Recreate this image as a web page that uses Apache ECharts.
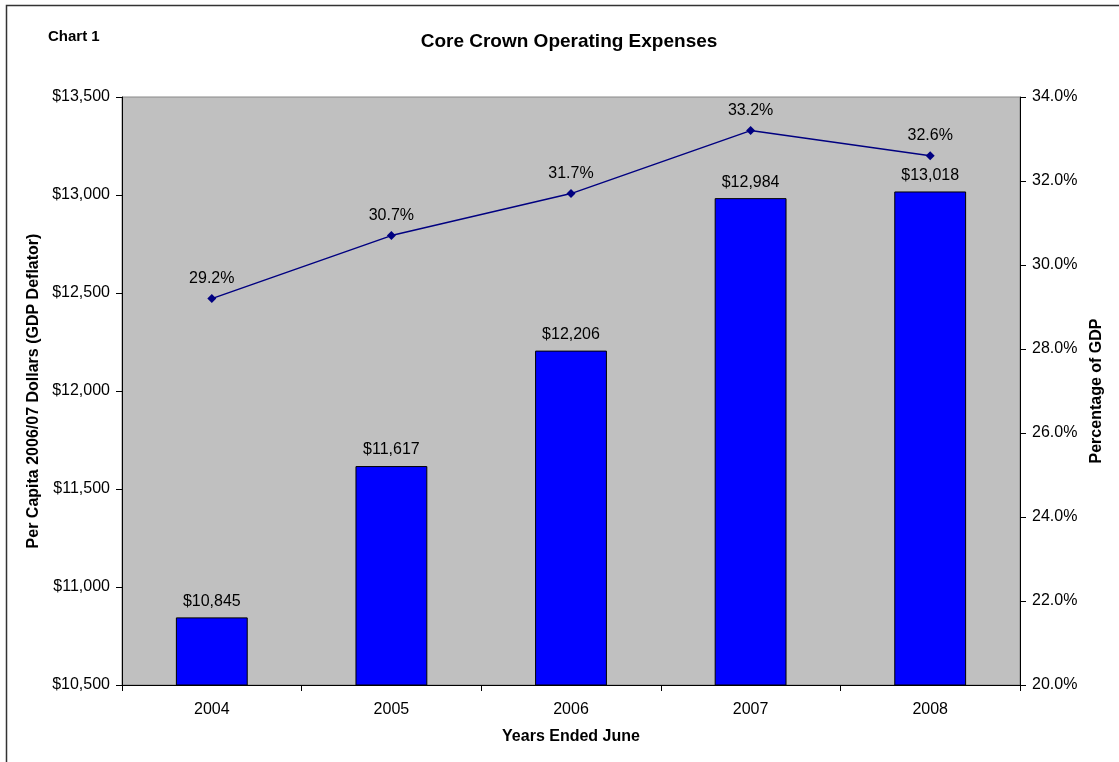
<!DOCTYPE html>
<html>
<head>
<meta charset="utf-8">
<script src="https://cdn.jsdelivr.net/npm/echarts@6/dist/echarts.min.js"></script>
<style>
html,body{margin:0;padding:0;background:#fff;}
#c{width:1119px;height:762px;}
</style>
</head>
<body>
<div id="c"></div>
<script>
const categories = ['2004', '2005', '2006', '2007', '2008'];
const perCapita = [10845, 11617, 12206, 12984, 13018];
const pctGDP = [29.2, 30.7, 31.7, 33.2, 32.6];

const chart = echarts.init(document.getElementById('c'), null, {renderer: 'canvas'});
const font = 'Liberation Sans, Arial, sans-serif';
const fmtMoney = v => '$' + v.toLocaleString('en-US');

chart.setOption({
  animation: false,
  textStyle: {fontFamily: font},
  title: {
    text: 'Core Crown Operating Expenses',
    left: 564, top: 27, textAlign: 'center',
    textStyle: {fontFamily: font, fontSize: 19, fontWeight: 'bold', color: '#000'}
  },
  graphic: [
    {type: 'rect', shape: {x: 6.5, y: 5.5, width: 1130, height: 780}, style: {fill: 'none', stroke: '#333', lineWidth: 1.5}, silent: true},
    {type: 'text', left: 48, top: 29, style: {text: 'Chart 1', font: 'bold 15px ' + font, fill: '#000'}}
  ],
  grid: {
    left: 122, top: 97, right: 99, bottom: 77,
    show: true, backgroundColor: '#C0C0C0', borderColor: '#888', borderWidth: 1
  },
  xAxis: {
    type: 'category', data: categories,
    name: 'Years Ended June', nameLocation: 'middle', nameGap: 44,
    nameTextStyle: {fontFamily: font, fontSize: 16, fontWeight: 'bold', color: '#000'},
    axisLine: {lineStyle: {color: '#000', width: 1}},
    axisTick: {show: true, inside: false, length: 6, lineStyle: {color: '#000'}},
    axisLabel: {fontFamily: font, fontSize: 16, color: '#000', margin: 17},
    splitLine: {show: false}
  },
  yAxis: [
    {
      type: 'value', min: 10500, max: 13500, interval: 500,
      name: 'Per Capita 2006/07 Dollars (GDP Deflator)', nameLocation: 'middle', nameGap: 78, nameRotate: 90,
      nameTextStyle: {fontFamily: font, fontSize: 16, fontWeight: 'bold', color: '#000'},
      axisLine: {show: true, lineStyle: {color: '#000'}},
      axisTick: {show: true, length: 6, lineStyle: {color: '#000'}},
      axisLabel: {fontFamily: font, fontSize: 16, color: '#000', margin: 12, formatter: v => fmtMoney(v)},
      splitLine: {show: false}
    },
    {
      type: 'value', min: 20, max: 34, interval: 2, position: 'right',
      name: 'Percentage of GDP', nameLocation: 'middle', nameGap: 68, nameRotate: 90,
      nameTextStyle: {fontFamily: font, fontSize: 16, fontWeight: 'bold', color: '#000'},
      axisLine: {show: true, lineStyle: {color: '#000'}},
      axisTick: {show: true, length: 6, lineStyle: {color: '#000'}},
      axisLabel: {fontFamily: font, fontSize: 16, color: '#000', margin: 12, formatter: v => v.toFixed(1) + '%'},
      splitLine: {show: false}
    }
  ],
  series: [
    {
      type: 'bar', yAxisIndex: 0, data: perCapita, barWidth: '40%',
      itemStyle: {color: '#0000FF', borderColor: '#000', borderWidth: 1},
      label: {show: true, position: 'top', distance: 8, fontFamily: font, fontSize: 16, color: '#000', formatter: p => fmtMoney(p.value)}
    },
    {
      type: 'line', yAxisIndex: 1, data: pctGDP,
      symbol: 'diamond', symbolSize: 9,
      lineStyle: {color: '#000080', width: 1.5},
      itemStyle: {color: '#000080'},
      label: {show: true, position: 'top', distance: 8, fontFamily: font, fontSize: 16, color: '#000', formatter: p => p.value.toFixed(1) + '%'}
    }
  ]
});
</script>
</body>
</html>
